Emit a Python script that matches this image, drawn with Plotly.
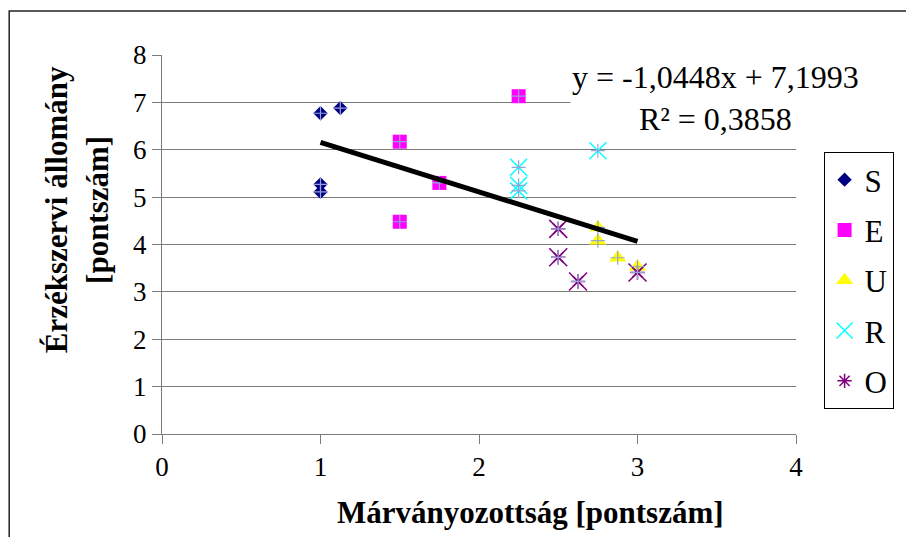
import plotly.graph_objects as go

# ---- data ----
S_x = [1, 1.125, 1, 1]
S_y = [6.77, 6.88, 5.27, 5.11]
E_x = [1.5, 1.75, 1.5, 2.25]
E_y = [6.17, 5.30, 4.48, 7.13]
U_x = [2.75, 2.75, 2.875, 3]
U_y = [4.36, 4.08, 3.72, 3.53]
R_x = [2.25, 2.25, 2.25, 2.75]
R_y = [5.63, 5.25, 5.13, 5.98]
O_x = [2.5, 2.5, 2.625, 3]
O_y = [4.33, 3.73, 3.22, 3.41]

trend_slope = -1.0448
trend_intercept = 7.1993
trend_x = [1, 3]
equation_text = "y = -1,0448x + 7,1993"
r2_text = "R² = 0,3858"

x_ticks = [0, 1, 2, 3, 4]
y_ticks = [0, 1, 2, 3, 4, 5, 6, 7, 8]

FONT = "Liberation Serif"
CROSS = "#98a2d6"
GRID = "#7a7a7a"

fig = go.Figure()

series = [
    ("S", S_x, S_y, "diamond", 11, "#000080"),
    ("E", E_x, E_y, "square", 14, "#ff00ff"),
    ("U", U_x, U_y, "triangle-up", 15, "#ffff00"),
    ("R", R_x, R_y, "x-thin", 17, "#00ffff"),
    ("O", O_x, O_y, "asterisk", 12, "#800080"),
]

for name, xs, ys, sym, size, col in series:
    fig.add_trace(go.Scatter(
        x=xs, y=ys, mode="markers", name=name, legendgroup=name,
        marker=dict(symbol=sym, size=size, color=col,
                    line=dict(color=col, width=1.5 if "thin" in sym or sym == "asterisk" else 0)),
    ))
    if name == "O":
        fig.add_trace(go.Scatter(
            x=xs, y=ys, mode="markers", showlegend=False, hoverinfo="skip",
            marker=dict(symbol="x-thin", size=18, color=col, line=dict(color=col, width=1.5)),
        ))

# light crosshair overlay on every point
all_x = S_x + E_x + U_x + R_x + O_x
all_y = S_y + E_y + U_y + R_y + O_y
fig.add_trace(go.Scatter(
    x=all_x, y=all_y, mode="markers", showlegend=False, hoverinfo="skip",
    marker=dict(symbol="cross-thin", size=10, color=CROSS, line=dict(color=CROSS, width=1.2)),
))

# trendline
trend_y = [trend_slope * v + trend_intercept for v in trend_x]
fig.add_trace(go.Scatter(
    x=trend_x, y=trend_y, mode="lines", showlegend=False, hoverinfo="skip",
    line=dict(color="black", width=5),
))

fig.update_layout(
    width=906, height=537,
    margin=dict(l=162, r=101, t=55, b=103),
    paper_bgcolor="white", plot_bgcolor="white",
    font=dict(family=FONT, color="black", size=27),
    showlegend=True,
    legend=dict(
        x=1.0435, xanchor="left", y=0.744, yanchor="top",
        bordercolor="black", borderwidth=1, bgcolor="white",
        font=dict(family=FONT, size=31, color="black"),
        tracegroupgap=7, traceorder="grouped",
    ),
    xaxis=dict(
        range=[0, 4], tickvals=x_ticks, ticktext=[str(v) for v in x_ticks],
        showgrid=False, zeroline=False, showline=True, linecolor=GRID, linewidth=1,
        ticks="outside", ticklen=9, tickcolor=GRID, tickwidth=1,
        tickfont=dict(family=FONT, size=27, color="black"),
    ),
    yaxis=dict(
        range=[0, 8], tickvals=y_ticks, ticktext=[str(v) for v in y_ticks],
        showgrid=True, gridcolor=GRID, gridwidth=1, zeroline=False,
        showline=True, linecolor=GRID, linewidth=1,
        ticks="outside", ticklen=9, tickcolor=GRID, tickwidth=1,
        tickfont=dict(family=FONT, size=27, color="black"),
    ),
    shapes=[dict(type="rect", xref="paper", yref="paper",
                 x0=-0.241, x1=1.25, y0=-0.3, y1=1.116,
                 line=dict(color="#222", width=1.5), fillcolor="rgba(0,0,0,0)",
                 layer="below")],
    annotations=[
        dict(text=equation_text + "<br>" + r2_text, xref="paper", yref="paper",
             x=0.8723, y=0.8865, xanchor="center", yanchor="middle", showarrow=False,
             align="center", bgcolor="white",
             font=dict(family=FONT, size=32, color="black")),
        dict(text="<b>Márványozottság [pontszám]</b>", xref="paper", yref="paper",
             x=0.5816, y=-0.208, xanchor="center", yanchor="middle", showarrow=False,
             font=dict(family=FONT, size=31, color="black")),
        dict(text="<b>Érzékszervi állomány<br>[pontszám]</b>", xref="paper", yref="paper",
             x=-0.1353, y=0.591, xanchor="center", yanchor="middle", showarrow=False,
             textangle=-90, font=dict(family=FONT, size=31, color="black")),
    ],
)

fig.write_html("out.html", config={"displayModeBar": False},
               post_script="document.body.style.margin='0';")
